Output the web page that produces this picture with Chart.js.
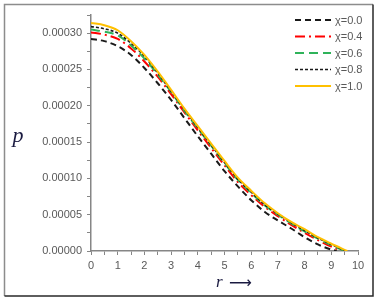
<!DOCTYPE html>
<html>
<head>
<meta charset="utf-8">
<script src="https://cdn.jsdelivr.net/npm/chart.js@4/dist/chart.umd.min.js"></script>
<style>
  html, body { margin: 0; padding: 0; background: #fff; }
  #wrap { width: 381px; height: 301px; }
</style>
</head>
<body>
<div id="wrap"><canvas id="pChart" width="381" height="301"></canvas></div>
<script>
// radial grid (r) shared by every curve, then each curve drops to zero at its own end point
const rGrid = [0, 0.5, 1, 1.5, 2, 2.5, 3, 3.5, 4, 4.5, 5, 5.5, 6, 6.5, 7, 7.5, 8, 8.5, 9];
const seriesLabels = ['χ=0.0', 'χ=0.4', 'χ=0.6', 'χ=0.8', 'χ=1.0'];
const endR = [9.2, 9.45, 9.5, 9.55, 9.6];

const pChi00 = [0.000292, 0.000289, 0.000282, 0.000270, 0.000252, 0.000231, 0.000208, 0.000183, 0.000158, 0.000134,
                0.000110, 0.000089, 0.000070, 0.000054, 0.000042, 0.000031, 0.000019, 0.000009, 0.000002];
const pChi04 = [0.000301, 0.000298, 0.000292, 0.000279, 0.000261, 0.000240, 0.000216, 0.000191, 0.000166, 0.000142,
                0.000118, 0.000095, 0.000077, 0.000061, 0.000048, 0.000036, 0.000025, 0.000015, 0.000006];
const pChi06 = [0.000305, 0.000302, 0.000297, 0.000283, 0.000265, 0.000243, 0.000219, 0.000193, 0.000169, 0.000145,
                0.000121, 0.000098, 0.000080, 0.000063, 0.000050, 0.000038, 0.000027, 0.000017, 0.000008];
const pChi08 = [0.000309, 0.000306, 0.000300, 0.000286, 0.000268, 0.000245, 0.000220, 0.000195, 0.000170, 0.000146,
                0.000122, 0.000099, 0.000081, 0.000064, 0.000051, 0.000039, 0.000028, 0.000018, 0.000009];
const pChi10 = [0.000314, 0.000311, 0.000304, 0.000289, 0.000270, 0.000247, 0.000222, 0.000196, 0.000172, 0.000148,
                0.000124, 0.000101, 0.000083, 0.000066, 0.000052, 0.000040, 0.000030, 0.000019, 0.000010];

const seriesValues = [pChi00, pChi04, pChi06, pChi08, pChi10];
const seriesColors = ['#1a1a1a', '#ff0000', '#2fb35a', '#1a1a1a', '#ffc000'];
const seriesDash = [[6, 4], [10, 4, 2, 4], [9, 5], [3, 2], []];
const seriesWidth = [2, 2, 2, 1.6, 2];

const labelColor = '#595959';
const axisColor = '#868686';

// build {x,y} points for one curve
function toPoints(vals, rEnd) {
    const pts = rGrid.map((r, i) => ({ x: r, y: vals[i] }));
    pts.push({ x: rEnd, y: 0 });
    return pts;
}

const datasets = seriesLabels.map((lab, k) => ({
    label: lab,
    data: toPoints(seriesValues[k], endR[k]),
    borderColor: seriesColors[k],
    backgroundColor: seriesColors[k],
    borderDash: seriesDash[k],
    borderWidth: seriesWidth[k],
    pointRadius: 0,
    cubicInterpolationMode: 'monotone',
    fill: false,
    order: seriesLabels.length - k
}));

// frame, axis titles and the legend inside the plot
const decorPlugin = {
    id: 'decor',
    afterDraw(chart) {
        const ctx = chart.ctx;
        ctx.save();

        // outer frame: light top/left, dark bottom/right
        ctx.lineWidth = 1.5;
        ctx.strokeStyle = '#8c8c8c';
        ctx.beginPath();
        ctx.moveTo(4.5, 296);
        ctx.lineTo(4.5, 4.5);
        ctx.lineTo(373, 4.5);
        ctx.stroke();
        ctx.strokeStyle = '#2a2a2a';
        ctx.beginPath();
        ctx.moveTo(373, 4.5);
        ctx.lineTo(373, 296);
        ctx.lineTo(4.5, 296);
        ctx.stroke();

        // axis titles
        ctx.fillStyle = '#1a1a40';
        ctx.textBaseline = 'middle';
        ctx.textAlign = 'center';
        ctx.font = 'italic 22px "Liberation Serif", "DejaVu Serif", serif';
        ctx.fillText('p', 18, 136);
        ctx.font = 'italic 17px "Liberation Serif", "DejaVu Serif", serif';
        ctx.textAlign = 'left';
        ctx.fillText('r', 216, 283);
        ctx.font = '16px "DejaVu Sans", sans-serif';
        ctx.fillText('⟶', 229, 284);

        // legend
        const ys = [20, 36.5, 53, 69.5, 86];
        ctx.font = '11px "Liberation Sans", Arial, sans-serif';
        chart.data.datasets.forEach((ds, k) => {
            ctx.strokeStyle = ds.borderColor;
            ctx.lineWidth = ds.borderWidth;
            ctx.setLineDash(ds.borderDash);
            ctx.beginPath();
            ctx.moveTo(295, ys[k]);
            ctx.lineTo(331, ys[k]);
            ctx.stroke();
            ctx.setLineDash([]);
            ctx.fillStyle = labelColor;
            ctx.textAlign = 'left';
            ctx.fillText(ds.label, 335, ys[k] + 0.5);
        });

        ctx.restore();
    }
};

new Chart(document.getElementById('pChart'), {
    type: 'line',
    data: { datasets: datasets },
    options: {
        responsive: false,
        animation: false,
        layout: { padding: { top: 15, right: 23, left: 0, bottom: 0 } },
        plugins: {
            legend: { display: false },
            tooltip: { enabled: false },
            title: { display: false }
        },
        scales: {
            x: {
                type: 'linear',
                min: 0,
                max: 10,
                afterFit: s => { s.height = 50; },
                border: { display: true, color: axisColor, width: 1.5 },
                grid: { drawOnChartArea: false, drawTicks: true, tickLength: 4, color: axisColor },
                ticks: {
                    stepSize: 0.5,
                    autoSkip: false,
                    maxRotation: 0,
                    padding: 4,
                    color: labelColor,
                    font: { family: '"Liberation Sans", Arial, sans-serif', size: 11 },
                    callback: v => (Math.abs(v - Math.round(v)) < 1e-9 ? String(Math.round(v)) : '')
                }
            },
            y: {
                type: 'linear',
                min: 0,
                max: 0.000325,
                afterFit: s => { s.width = 91; },
                border: { display: true, color: axisColor, width: 1.5 },
                grid: { drawOnChartArea: false, drawTicks: true, tickLength: 4, color: axisColor },
                ticks: {
                    stepSize: 0.000025,
                    autoSkip: false,
                    padding: 5,
                    color: labelColor,
                    font: { family: '"Liberation Sans", Arial, sans-serif', size: 11 },
                    callback: v => {
                        const n = Math.round(v / 0.000025);
                        return n % 2 === 0 ? (n * 0.000025).toFixed(5) : '';
                    }
                }
            }
        }
    },
    plugins: [decorPlugin]
});
</script>
</body>
</html>
